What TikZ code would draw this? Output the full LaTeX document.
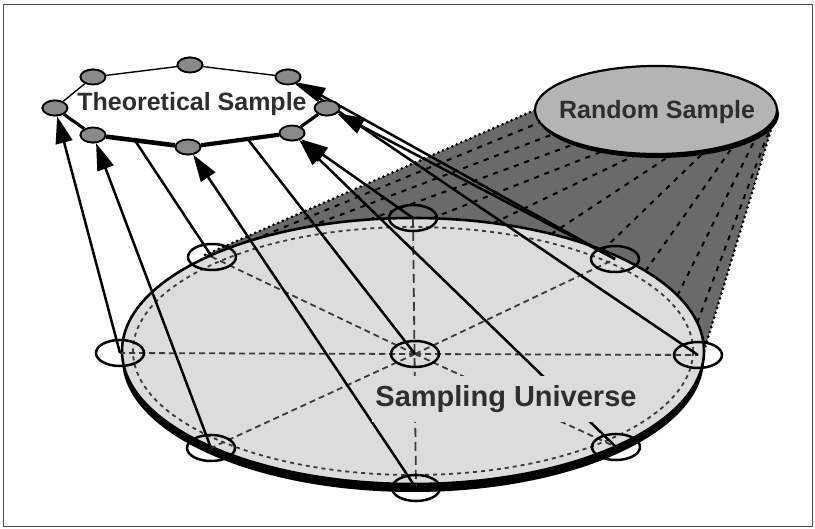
\documentclass[tikz,border=0pt]{standalone}
\usepackage{fontspec}
\setmainfont{Liberation Sans}
\usetikzlibrary{arrows.meta,calc,shapes.geometric}
\definecolor{lightU}{HTML}{DCDCDC}
\definecolor{darkR}{HTML}{6A6A6A}
\definecolor{rsFill}{HTML}{B4B4B4}
\definecolor{vtx}{HTML}{8A8A8A}
\definecolor{txt}{HTML}{2E2E2E}
\definecolor{dashc}{HTML}{3A3A3A}
\begin{document}
\begin{tikzpicture}[x=1pt,y=-1pt,
  samp/.style={draw, ellipse, line width=2.5pt, minimum width=48pt, minimum height=26pt, inner sep=0pt},
  vert/.style={draw, ellipse, fill=vtx, line width=1.8pt, minimum width=25pt, minimum height=15pt, inner sep=0pt},
  conn/.style={line width=2.5pt},
  arr/.style={conn, -{Triangle[length=27pt,width=17pt]}},
  spoke/.style={dashc, line width=1.8pt, dash pattern=on 6pt off 4pt},
  vspoke/.style={dashc, line width=1.8pt, dash pattern=on 9pt off 5pt},
  gen/.style={black, line width=2pt, dash pattern=on 5pt off 6pt},
  bound/.style={black, line width=3pt, line cap=round, dash pattern=on 0pt off 5pt},
  lbl/.style={font=\bfseries\fontsize{25}{25}\selectfont, text=txt}
]
\useasboundingbox (0,0) rectangle (815,529);
\draw[line width=1pt, black!70] (3,5) rectangle (812,527);

% dark projection region
\fill[darkR] (205,255) -- (535,110) -- (777,110) -- (704,351) -- (413,351) -- cycle;
\foreach \k in {1,...,10}{
  \pgfmathsetmacro\th{135.6 - \k*135.6/11}
  \pgfmathsetmacro\ph{180 + \k*180/11}
  \draw[gen] ({413+291*cos(\th)},{351-133*sin(\th)}) -- ({656+121*cos(\ph)},{110-44*sin(\ph)});
}
\draw[bound] (205,255) -- (535,110);
\draw[bound] (704,351) -- (777,110);

% Random sample ellipse
\fill[black] (658,114) ellipse[x radius=121pt, y radius=44pt];
\draw[fill=rsFill, line width=2.2pt] (656,110) ellipse[x radius=121pt, y radius=44pt];
\node[lbl] (rsT) at (657,112) {Random Sample};

% Sampling universe
\fill[black] (413,359) ellipse[x radius=291pt, y radius=133pt];
\draw[fill=lightU, line width=2.6pt] (413,351) ellipse[x radius=291pt, y radius=133pt];
\draw[dashc, line width=1.8pt, dash pattern=on 4pt off 4pt] (413,351) ellipse[x radius=280pt, y radius=124pt];

\coordinate (pL) at (120,353);
\coordinate (pUL) at (212,257);
\coordinate (pT) at (413,218);
\coordinate (pUR) at (615,259);
\coordinate (pR) at (698,355);
\coordinate (pLR) at (616,447);
\coordinate (pB) at (416,488);
\coordinate (pLL) at (211,448);
\coordinate (pC) at (415,354);

\foreach \s in {pL,pUL,pUR,pR,pLR,pLL} \draw[spoke] (pC) -- (\s);
\draw[vspoke] (pT) -- (pB);

\node[samp] (sL) at (pL) {};
\node[samp] (sUL) at (pUL) {};
\node[samp] (sT) at (pT) {};
\node[samp] (sUR) at (pUR) {};
\node[samp] (sR) at (pR) {};
\node[samp] (sLR) at (pLR) {};
\node[samp] (sB) at (pB) {};
\node[samp] (sLL) at (pLL) {};
\node[samp] (sC) at (pC) {};

% octagon vertices
\node[vert] (o1) at (55,108) {};
\node[vert] (o2) at (93,77) {};
\node[vert] (o3) at (190,65) {};
\node[vert] (o4) at (288,77) {};
\node[vert] (o5) at (327,108) {};
\node[vert] (o6) at (292,133) {};
\node[vert] (o7) at (188,147) {};
\node[vert] (o8) at (93,135) {};

% connectors
\draw[arr] (sL.center) -- (o1);
\draw[arr] (sLL.center) -- (o8);
\draw[arr] (sB.center) -- (o7);
\draw[arr] (sUL.center) -- (o2);
\draw[arr] (sC.center) -- (o3);
\draw[arr] (sLR.center) -- (o6);
\draw[arr] (sT.center) -- (o6);
\draw[arr] (sUR.center) -- (o5);
\draw[arr] (sR.center) -- (o4);
\draw[arr] (sUR.center) -- (o4);

% label on universe (hides lines behind)
\node[lbl, font=\bfseries\fontsize{29}{29}\selectfont, fill=lightU, inner xsep=3pt, inner ysep=9pt] (suT) at (506,399) {Sampling Universe};

% octagon
\fill[white] (o1.center) -- (o2.center) -- (o3.center) -- (o4.center) -- (o5.center) -- (o6.center) -- (o7.center) -- (o8.center) -- cycle;
\draw[line width=1.4pt] (o1) -- (o2);
\draw[line width=1.4pt] (o2) -- (o3);
\draw[line width=1.4pt] (o3) -- (o4);
\draw[line width=2.2pt] (o4) -- (o5);
\draw[line width=3.2pt] (o5) -- (o6);
\draw[line width=4.2pt] (o6) -- (o7);
\draw[line width=4.6pt] (o7) -- (o8);
\draw[line width=3.2pt] (o8) -- (o1);
\foreach \v in {o1,o2,o3,o4,o5,o6,o7,o8} \node[vert] at (\v) {};
\node[lbl] (tsT) at (192,104) {Theoretical Sample};
\end{tikzpicture}
\end{document}
